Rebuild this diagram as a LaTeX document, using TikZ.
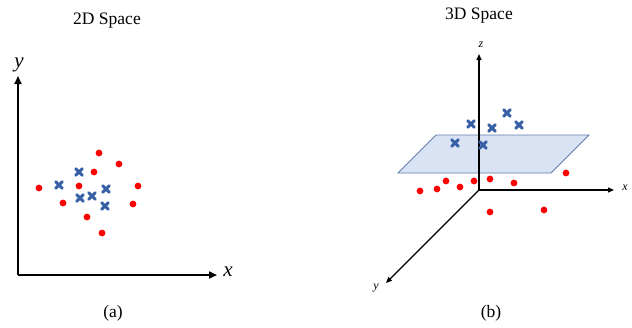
\documentclass[tikz,border=0pt]{standalone}
\usepackage{fontspec}
\setmainfont{Liberation Serif}
\usetikzlibrary{shapes.misc,arrows.meta}
\definecolor{dotred}{RGB}{255,0,0}
\definecolor{crossblue}{RGB}{55,95,165}
\definecolor{planefill}{RGB}{218,227,243}
\definecolor{planeedge}{RGB}{95,125,175}
\tikzset{
  rdot/.style={circle,fill=dotred,inner sep=0pt,minimum size=6.8pt},
  bcross/.style={cross out,draw=crossblue,line width=3pt,line cap=round,inner sep=0pt,minimum size=3.4pt},
  axisA/.style={line width=1.8pt,-{Triangle[length=8pt,width=7pt]}},
  axisB/.style={line width=1.3pt,-{Triangle[length=6pt,width=5pt]}},
  title/.style={font=\fontsize{17.5}{20}\selectfont},
  biglab/.style={font=\fontsize{21}{24}\selectfont\itshape},
  smalllab/.style={font=\fontsize{12}{14}\selectfont\itshape},
}
\begin{document}
\begin{tikzpicture}[x=1pt,y=-1pt]
\useasboundingbox (0,0) rectangle (632,327);
% ---------- 2D panel ----------
\node[title] (t2) at (107,21) {2D Space};
\node[title] (ca) at (113,313) {(a)};
\coordinate (o2) at (18,275);
\coordinate (x2) at (217,275);
\coordinate (y2) at (18,76);
\draw[axisA] (o2) -- (x2);
\draw[axisA] (o2) -- (y2);
\node[biglab] (lx2) at (228,272) {x};
\node[biglab] (ly2) at (19,65) {y};
% red dots
\node[rdot] (r1) at (99,153) {};
\node[rdot] (r2) at (119,164) {};
\node[rdot] (r3) at (94,172) {};
\node[rdot] (r4) at (39,188) {};
\node[rdot] (r5) at (79,186) {};
\node[rdot] (r6) at (138,186) {};
\node[rdot] (r7) at (63,203) {};
\node[rdot] (r8) at (133,204) {};
\node[rdot] (r9) at (87,217) {};
\node[rdot] (r10) at (102,233) {};
% blue crosses
\node[bcross] (b1) at (79,172) {};
\node[bcross] (b2) at (59,185) {};
\node[bcross] (b3) at (106,189) {};
\node[bcross] (b4) at (80,198) {};
\node[bcross] (b5) at (92,196) {};
\node[bcross] (b6) at (105,206) {};
% ---------- 3D panel ----------
\node[title] (t3) at (479,16) {3D Space};
\node[title] (cb) at (491,313) {(b)};
\coordinate (p1) at (436,135);
\coordinate (p2) at (589,135);
\coordinate (p3) at (551,173);
\coordinate (p4) at (398,173);
\draw[fill=planefill,draw=planeedge,line width=0.8pt] (p1) -- (p2) -- (p3) -- (p4) -- cycle;
\coordinate (o3) at (479,190);
\coordinate (x3) at (614,190);
\coordinate (y3) at (386,283);
\coordinate (z3) at (479,54);
\draw[axisB] (o3) -- (x3);
\draw[axisB] (o3) -- (y3);
\draw[axisB] (o3) -- (z3);
\node[smalllab] (lx3) at (625,188) {x};
\node[smalllab] (ly3) at (376,288) {y};
\node[smalllab] (lz3) at (481,45) {z};
% blue crosses
\node[bcross] (c1) at (507,113) {};
\node[bcross] (c2) at (471,124) {};
\node[bcross] (c3) at (492,128) {};
\node[bcross] (c4) at (519,125) {};
\node[bcross] (c5) at (455,143) {};
\node[bcross] (c6) at (483,145) {};
% red dots
\node[rdot] (d1) at (566,173) {};
\node[rdot] (d2) at (446,181) {};
\node[rdot] (d3) at (474,181) {};
\node[rdot] (d4) at (490,179) {};
\node[rdot] (d5) at (514,183) {};
\node[rdot] (d6) at (420,191) {};
\node[rdot] (d7) at (437,189) {};
\node[rdot] (d8) at (460,187) {};
\node[rdot] (d9) at (490,212) {};
\node[rdot] (d10) at (544,210) {};
\end{tikzpicture}
\end{document}
